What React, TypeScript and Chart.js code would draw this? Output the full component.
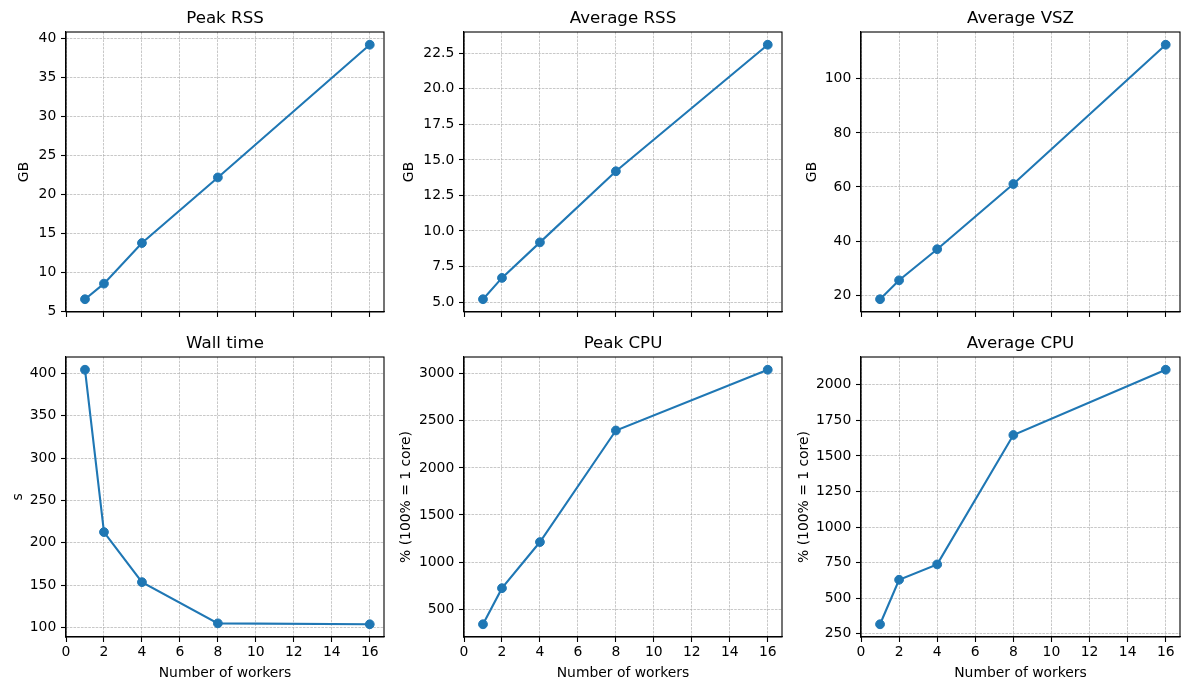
import React, { useEffect, useRef } from "react";
import { Chart, registerables } from "chart.js";

Chart.register(...registerables);

// ---------------- data ----------------
const workers = [1, 2, 4, 8, 16];
const peakRss = [6.6, 8.6, 13.8, 22.2, 39.2];
const avgRss = [5.2, 6.7, 9.2, 14.2, 23.1];
const avgVsz = [18.5, 25.5, 37.0, 61.1, 112.6];
const wallTime = [404.5, 212.6, 153.4, 104.7, 103.6];
const peakCpu = [340, 723, 1213, 2397, 3042];
const avgCpu = [316, 629, 737, 1647, 2106];

// ---------------- ticks ----------------
const xTicks = [0, 2, 4, 6, 8, 10, 12, 14, 16];
const peakRssTicks = [5, 10, 15, 20, 25, 30, 35, 40];
const avgRssTicks = [5.0, 7.5, 10.0, 12.5, 15.0, 17.5, 20.0, 22.5];
const avgVszTicks = [20, 40, 60, 80, 100];
const wallTicks = [100, 150, 200, 250, 300, 350, 400];
const peakCpuTicks = [500, 1000, 1500, 2000, 2500, 3000];
const avgCpuTicks = [250, 500, 750, 1000, 1250, 1500, 1750, 2000];

const titles = ["Peak RSS", "Average RSS", "Average VSZ", "Wall time", "Peak CPU", "Average CPU"];
const yLabels = ["GB", "GB", "GB", "s", "% (100% = 1 core)", "% (100% = 1 core)"];
const xLabel = "Number of workers";

const COLOR = "#1f77b4";
const FONT = "DejaVu Sans";

// layout (px)
const cols = [
  { left: 0, lpad: 66, w: 318, rpad: 8 },
  { left: 392, lpad: 72, w: 318, rpad: 8 },
  { left: 790, lpad: 71, w: 319, rpad: 10 },
];
const rows = [
  { top: 0, tpad: 32, h: 280, bpad: 13 },
  { top: 325, tpad: 32, h: 280, bpad: 53 },
];

type PanelDef = {
  title: string;
  yLabel: string;
  values: number[];
  yTicks: number[];
  decimals: number;
  col: number;
  row: number;
  yLabelX: number;
};

const panels: PanelDef[] = [
  { title: titles[0], yLabel: yLabels[0], values: peakRss, yTicks: peakRssTicks, decimals: 0, col: 0, row: 0, yLabelX: 24 },
  { title: titles[1], yLabel: yLabels[1], values: avgRss, yTicks: avgRssTicks, decimals: 1, col: 1, row: 0, yLabelX: 409 },
  { title: titles[2], yLabel: yLabels[2], values: avgVsz, yTicks: avgVszTicks, decimals: 0, col: 2, row: 0, yLabelX: 812 },
  { title: titles[3], yLabel: yLabels[3], values: wallTime, yTicks: wallTicks, decimals: 0, col: 0, row: 1, yLabelX: 18 },
  { title: titles[4], yLabel: yLabels[4], values: peakCpu, yTicks: peakCpuTicks, decimals: 0, col: 1, row: 1, yLabelX: 406.5 },
  { title: titles[5], yLabel: yLabels[5], values: avgCpu, yTicks: avgCpuTicks, decimals: 0, col: 2, row: 1, yLabelX: 804 },
];

const framePlugin = {
  id: "frame",
  afterDraw(chart: any) {
    const { ctx, chartArea } = chart;
    const { left, top, right, bottom } = chartArea;
    ctx.save();
    ctx.strokeStyle = "#000";
    ctx.lineWidth = 1.1;
    ctx.strokeRect(left, top, right - left, bottom - top);
    ctx.restore();
  },
};

function Panel({ p }: { p: PanelDef }) {
  const ref = useRef<HTMLCanvasElement | null>(null);
  const c = cols[p.col];
  const r = rows[p.row];
  const width = c.lpad + c.w + c.rpad;
  const height = r.tpad + r.h + r.bpad;
  const isBottom = p.row === 1;

  useEffect(() => {
    if (!ref.current) return;
    const vmin = Math.min(...p.values);
    const vmax = Math.max(...p.values);
    const m = (vmax - vmin) * 0.05;
    const xMaxData = Math.max(...workers);
    const xMinData = Math.min(...workers);
    const xMax = xMaxData + (xMaxData - xMinData) * 0.05;
    const tickFontPx = 13.9;
    const lh = tickFontPx * 1.2;

    const chart = new Chart(ref.current, {
      type: "line",
      data: {
        datasets: [
          {
            data: workers.map((w, i) => ({ x: w, y: p.values[i] })),
            borderColor: COLOR,
            backgroundColor: COLOR,
            borderWidth: 2.1,
            pointRadius: 4.4,
            pointBorderWidth: 1,
            pointBorderColor: COLOR,
            pointBackgroundColor: COLOR,
            tension: 0,
            fill: false,
          },
        ],
      },
      options: {
        animation: false,
        responsive: false,
        maintainAspectRatio: false,
        layout: { padding: { left: 0, top: 0, bottom: 0, right: c.rpad } },
        plugins: {
          legend: { display: false },
          tooltip: { enabled: false },
          title: {
            display: true,
            text: p.title,
            fullSize: false,
            color: "#000",
            font: { family: FONT, size: 16.67, weight: "normal", lineHeight: 1.2 },
            padding: { top: 8.3, bottom: 3.7 },
          },
        },
        scales: {
          x: {
            type: "linear",
            min: 0,
            max: xMax,
            afterBuildTicks: (scale: any) => {
              scale.ticks = xTicks.map((v) => ({ value: v }));
            },
            afterFit: (scale: any) => {
              scale.height = r.bpad;
            },
            ticks: {
              display: isBottom,
              autoSkip: false,
              maxRotation: 0,
              padding: 2,
              color: "#000",
              font: { family: FONT, size: tickFontPx, lineHeight: 1.2 },
              callback: (v: any) => String(v),
            },
            grid: {
              color: "#b0b0b0",
              lineWidth: 0.7,
              drawTicks: true,
              tickLength: 5,
              tickColor: "#000",
              tickWidth: 1.1,
            },
            border: { display: true, color: "#000", width: 1.1, dash: [2.6, 1.1] },
            title: {
              display: isBottom,
              text: xLabel,
              color: "#000",
              font: { family: FONT, size: tickFontPx, lineHeight: 1.2 },
              padding: { top: 0, bottom: 8.5 },
            },
          },
          y: {
            type: "linear",
            min: vmin - m,
            max: vmax + m,
            afterBuildTicks: (scale: any) => {
              scale.ticks = p.yTicks.map((v) => ({ value: v }));
            },
            afterFit: (scale: any) => {
              scale.width = c.lpad;
            },
            ticks: {
              autoSkip: false,
              padding: 4.7,
              color: "#000",
              font: { family: FONT, size: tickFontPx, lineHeight: 1.2 },
              callback: (v: any) => Number(v).toFixed(p.decimals),
            },
            grid: {
              color: "#b0b0b0",
              lineWidth: 0.7,
              drawTicks: true,
              tickLength: 5,
              tickColor: "#000",
              tickWidth: 1.1,
            },
            border: { display: true, color: "#000", width: 1.1, dash: [2.6, 1.1] },
            title: {
              display: true,
              text: p.yLabel,
              color: "#000",
              font: { family: FONT, size: tickFontPx, lineHeight: 1.2 },
              padding: { top: Math.max(0, p.yLabelX - c.left - lh / 2), bottom: 0 },
            },
          },
        },
      } as any,
      plugins: [framePlugin],
    });
    return () => chart.destroy();
  }, []);

  return (
    <canvas
      ref={ref}
      width={width}
      height={height}
      style={{ position: "absolute", left: c.left, top: r.top, width, height }}
    />
  );
}

export default function App() {
  return (
    <div
      style={{
        position: "absolute",
        left: 0,
        top: 0,
        width: 1190,
        height: 690,
        background: "#fff",
        overflow: "hidden",
      }}
    >
      {panels.map((p, i) => (
        <Panel key={i} p={p} />
      ))}
    </div>
  );
}
